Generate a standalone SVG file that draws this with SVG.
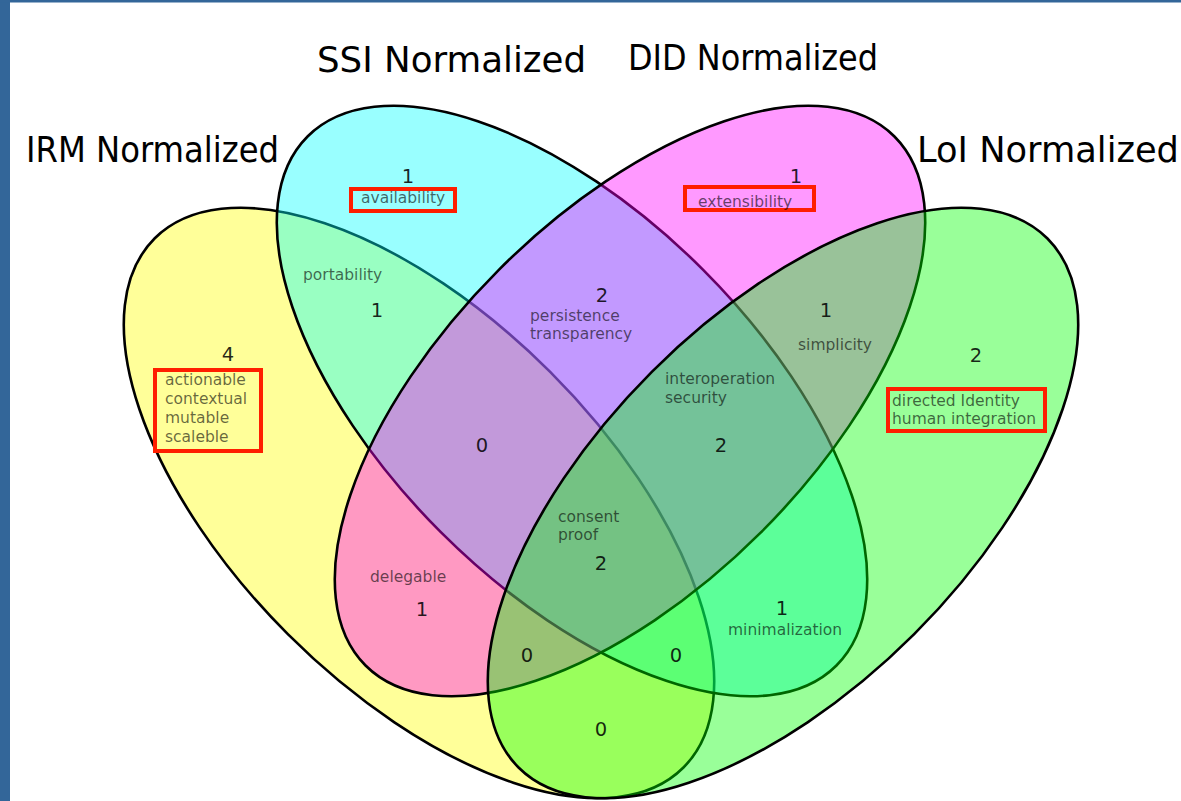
<svg xmlns="http://www.w3.org/2000/svg" width="1181" height="801" viewBox="0 0 1181 801">
<style>
.set{stroke:#000;stroke-width:2.6;fill-opacity:0.4}
.title{font-family:"DejaVu Sans",sans-serif;font-size:35.5px;fill:#000}
.lbl{font-family:"DejaVu Sans",sans-serif;font-size:15.5px;fill:#000;fill-opacity:0.6}
.num{font-family:"DejaVu Sans",sans-serif;font-size:19.5px;fill:#000;fill-opacity:0.85;text-anchor:middle}
.box{fill:none;stroke:#ff1e00;stroke-width:4}
</style>
<rect width="1181" height="801" fill="#ffffff"/>
<rect x="0" y="0" width="10" height="801" fill="#336699"/>
<rect x="0" y="0" width="1181" height="2.5" fill="#336699"/>

<g id="set-irm"><ellipse class="set" cx="419" cy="503" rx="374" ry="185.5" transform="rotate(45 419 503)" fill="#ffff00"/></g>
<g id="set-ssi"><ellipse class="set" cx="572" cy="401" rx="374" ry="185.5" transform="rotate(45 572 401)" fill="#00ffff"/></g>
<g id="set-did"><ellipse class="set" cx="630" cy="401" rx="374" ry="185.5" transform="rotate(-45 630 401)" fill="#ff00ff"/></g>
<g id="set-loi"><ellipse class="set" cx="783" cy="503" rx="374" ry="185.5" transform="rotate(-45 783 503)" fill="#00ff00"/></g>

<g id="connectors"></g>

<g id="titles">
<text class="title" x="26" y="162" textLength="253" lengthAdjust="spacingAndGlyphs">IRM Normalized</text>
<text class="title" x="317" y="72" textLength="269" lengthAdjust="spacingAndGlyphs">SSI Normalized</text>
<text class="title" x="628" y="70" textLength="250" lengthAdjust="spacingAndGlyphs">DID Normalized</text>
<text class="title" x="917" y="162" textLength="262" lengthAdjust="spacingAndGlyphs">LoI Normalized</text>
</g>

<g id="region-irm-only">
<text class="num" x="228" y="361">4</text>
<rect class="box" x="155" y="370" width="106" height="81"/>
<text class="lbl" x="165" y="385">actionable</text>
<text class="lbl" x="165" y="404">contextual</text>
<text class="lbl" x="165" y="423">mutable</text>
<text class="lbl" x="165" y="441.5">scaleble</text>
</g>
<g id="region-ssi-only">
<text class="num" x="408" y="183">1</text>
<rect class="box" x="351" y="189" width="104" height="22"/>
<text class="lbl" x="361" y="203">availability</text>
</g>
<g id="region-did-only">
<text class="num" x="796" y="183">1</text>
<rect class="box" x="685" y="187" width="129" height="23"/>
<text class="lbl" x="698" y="207">extensibility</text>
</g>
<g id="region-loi-only">
<text class="num" x="976" y="362">2</text>
<rect class="box" x="888" y="389" width="157" height="42"/>
<text class="lbl" x="892" y="406">directed Identity</text>
<text class="lbl" x="892" y="424">human integration</text>
</g>
<g id="region-irm-ssi">
<text class="lbl" x="303" y="280">portability</text>
<text class="num" x="377" y="317">1</text>
</g>
<g id="region-ssi-did">
<text class="num" x="602" y="302">2</text>
<text class="lbl" x="530" y="321">persistence</text>
<text class="lbl" x="530" y="339">transparency</text>
</g>
<g id="region-did-loi">
<text class="num" x="826" y="317">1</text>
<text class="lbl" x="798" y="350">simplicity</text>
</g>
<g id="region-irm-ssi-did">
<text class="num" x="482" y="452">0</text>
</g>
<g id="region-ssi-did-loi">
<text class="lbl" x="665" y="384">interoperation</text>
<text class="lbl" x="665" y="403">security</text>
<text class="num" x="721" y="452">2</text>
</g>
<g id="region-all">
<text class="lbl" x="558" y="522">consent</text>
<text class="lbl" x="558" y="540">proof</text>
<text class="num" x="601" y="570">2</text>
</g>
<g id="region-irm-did">
<text class="lbl" x="370" y="582">delegable</text>
<text class="num" x="422" y="616">1</text>
</g>
<g id="region-ssi-loi">
<text class="num" x="782" y="615">1</text>
<text class="lbl" x="728" y="635">minimalization</text>
</g>
<g id="region-irm-did-loi"><text class="num" x="527" y="662">0</text></g>
<g id="region-irm-ssi-loi"><text class="num" x="676" y="662">0</text></g>
<g id="region-irm-loi"><text class="num" x="601" y="736">0</text></g>
</svg>
